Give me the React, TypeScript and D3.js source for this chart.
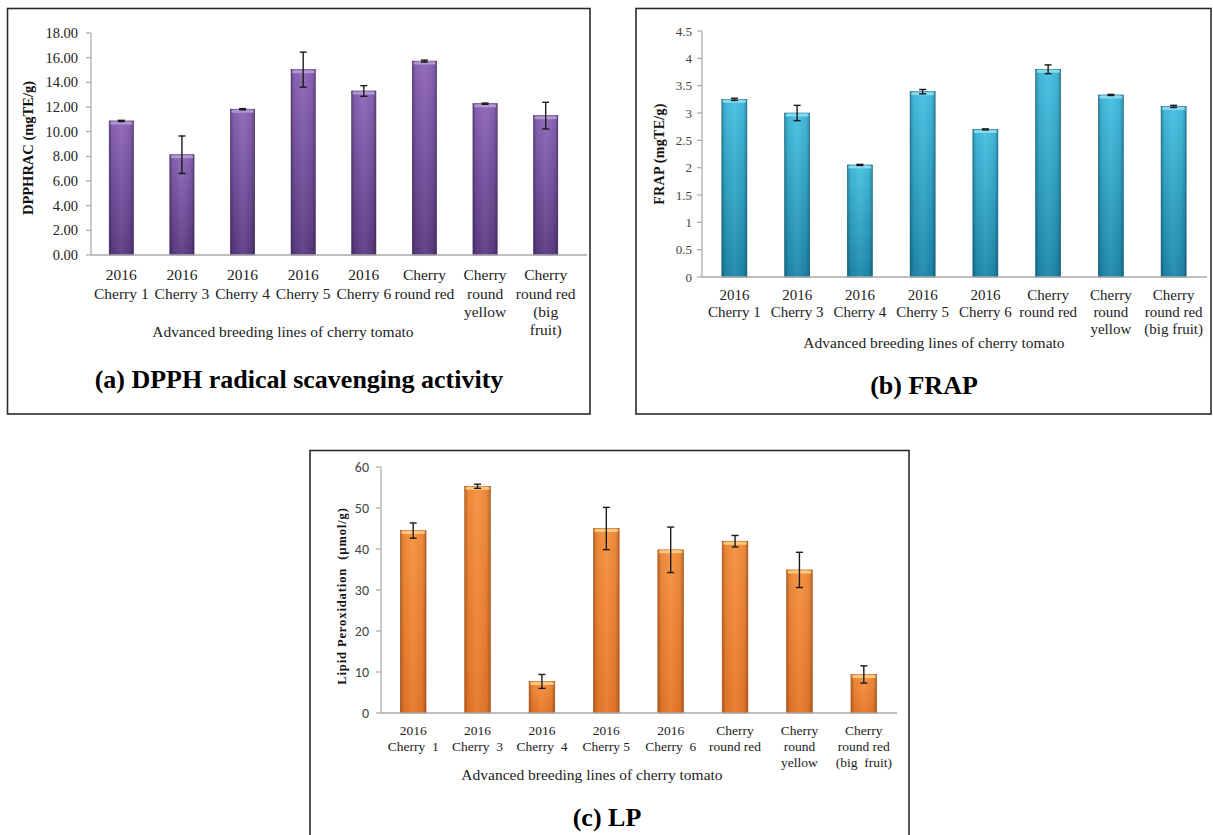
import React from "react";
import * as d3 from "d3";

const catsA: string[][] = [
  ["2016", "Cherry 1"], ["2016", "Cherry 3"], ["2016", "Cherry 4"], ["2016", "Cherry 5"],
  ["2016", "Cherry 6"], ["Cherry", "round red"], ["Cherry", "round", "yellow"], ["Cherry", "round red", "(big", "fruit)"],
];
const catsB: string[][] = [
  ["2016", "Cherry 1"], ["2016", "Cherry 3"], ["2016", "Cherry 4"], ["2016", "Cherry 5"],
  ["2016", "Cherry 6"], ["Cherry", "round red"], ["Cherry", "round", "yellow"], ["Cherry", "round red", "(big fruit)"],
];
const catsC: string[][] = [
  ["2016", "Cherry  1"], ["2016", "Cherry  3"], ["2016", "Cherry  4"], ["2016", "Cherry 5"],
  ["2016", "Cherry  6"], ["Cherry", "round red"], ["Cherry", "round", "yellow"], ["Cherry", "round red", "(big  fruit)"],
];

const dpphValues = [10.87, 8.13, 11.82, 15.03, 13.3, 15.72, 12.27, 11.3];
const dpphErrors = [0.05, 1.52, 0.05, 1.42, 0.43, 0.08, 0.05, 1.08];
const dpphTicks = [0, 2, 4, 6, 8, 10, 12, 14, 16, 18];

const frapValues = [3.25, 3.0, 2.05, 3.39, 2.7, 3.8, 3.33, 3.12];
const frapErrors = [0.02, 0.14, 0.01, 0.04, 0.01, 0.08, 0.01, 0.02];
const frapTicks = [0, 0.5, 1, 1.5, 2, 2.5, 3, 3.5, 4, 4.5];

const lpValues = [44.5, 55.3, 7.7, 45.0, 39.8, 41.9, 34.9, 9.4];
const lpErrors = [1.85, 0.5, 1.7, 5.15, 5.55, 1.4, 4.3, 2.1];
const lpTicks = [0, 10, 20, 30, 40, 50, 60];

const SERIF = "Liberation Serif";
const SANS = "Carlito";

type PanelProps = {
  id: string;
  cats: string[][];
  values: number[];
  errors: number[];
  ticks: number[];
  fmt: (v: number) => string;
  border: [number, number, number, number];
  xRange: [number, number];
  axisX: number;
  axisEnd: number;
  yRange: [number, number];
  tickFont: string;
  tickSize: number;
  tickColor: string;
  tickLabelX: number;
  yTitle: string;
  yTitlePos: [number, number];
  yTitleSize: number;
  yTitleSpacing: number;
  catY: number;
  catLH: number;
  catSize: number;
  xTitlePos: [number, number];
  xTitleSize: number;
  title: string;
  titlePos: [number, number];
  colors: { top: string; bottom: string; cap: string; stroke: string };
};

function Panel(p: PanelProps) {
  const x = d3.scaleBand<number>().domain(p.values.map((_, i) => i)).range(p.xRange).paddingInner(0).paddingOuter(0);
  const y = d3.scaleLinear().domain([p.ticks[0], p.ticks[p.ticks.length - 1]]).range(p.yRange);
  const bw = x.bandwidth() * 0.4;
  const [bx0, by0, bx1, by1] = p.border;
  return (
    <g>
      <defs>
        <linearGradient id={p.id + "v"} x1="0" y1="0" x2="0" y2="1">
          <stop offset="0%" stopColor={p.colors.top} />
          <stop offset="100%" stopColor={p.colors.bottom} />
        </linearGradient>
        <linearGradient id={p.id + "h"} x1="0" y1="0" x2="1" y2="0">
          <stop offset="0%" stopColor="#000" stopOpacity={0.28} />
          <stop offset="14%" stopColor="#000" stopOpacity={0.05} />
          <stop offset="50%" stopColor="#fff" stopOpacity={0.06} />
          <stop offset="86%" stopColor="#000" stopOpacity={0.05} />
          <stop offset="100%" stopColor="#000" stopOpacity={0.28} />
        </linearGradient>
      </defs>
      <rect x={bx0} y={by0} width={bx1 - bx0} height={by1 - by0} fill="#fff" stroke="#2b2b2b" strokeWidth={1.6} />
      <line x1={p.axisX} x2={p.axisX} y1={y(p.ticks[p.ticks.length - 1])} y2={y(0)} stroke="#a8a8a8" strokeWidth={1.2} />
      {p.ticks.map((t) => (
        <g key={t}>
          <line x1={p.axisX - 5} x2={p.axisX} y1={y(t)} y2={y(t)} stroke="#a8a8a8" strokeWidth={1.2} />
          <text x={p.tickLabelX} y={y(t)} dy="0.35em" textAnchor="end" fontFamily={p.tickFont} fontSize={p.tickSize} fill={p.tickColor}>
            {p.fmt(t)}
          </text>
        </g>
      ))}
      {p.values.map((v, i) => {
        const cx = (x(i) as number) + x.bandwidth() / 2;
        const top = y(v);
        const h = y(0) - top;
        return (
          <g key={i}>
            <rect x={cx - bw / 2} y={top} width={bw} height={h} fill={`url(#${p.id}v)`} stroke={p.colors.stroke} strokeWidth={0.6} />
            <rect x={cx - bw / 2} y={top} width={bw} height={h} fill={`url(#${p.id}h)`} />
            <rect x={cx - bw / 2 + 1} y={top + 0.5} width={bw - 2} height={3} rx={1.5} fill={p.colors.cap} opacity={0.85} />
          </g>
        );
      })}
      {p.values.map((v, i) => {
        const cx = (x(i) as number) + x.bandwidth() / 2;
        const hi = y(v + p.errors[i]);
        const lo = y(v - p.errors[i]);
        return (
          <g key={"e" + i} stroke="#1a1a1a" strokeWidth={1.4}>
            <line x1={cx} x2={cx} y1={hi} y2={lo} />
            <line x1={cx - 3.5} x2={cx + 3.5} y1={hi} y2={hi} />
            <line x1={cx - 3.5} x2={cx + 3.5} y1={lo} y2={lo} />
          </g>
        );
      })}
      <line x1={p.axisX} x2={p.axisEnd} y1={y(0)} y2={y(0)} stroke="#a8a8a8" strokeWidth={1.4} />
      {p.cats.map((lines, i) => {
        const cx = (x(i) as number) + x.bandwidth() / 2;
        return (
          <text key={"c" + i} textAnchor="middle" fontFamily={SERIF} fontSize={p.catSize} fill="#222" style={{ whiteSpace: "pre" }}>
            {lines.map((l, j) => (
              <tspan key={j} x={cx} y={p.catY + j * p.catLH} dy="0.35em">
                {l}
              </tspan>
            ))}
          </text>
        );
      })}
      <text x={p.xTitlePos[0]} y={p.xTitlePos[1]} dy="0.35em" textAnchor="middle" fontFamily={SERIF} fontSize={p.xTitleSize} fill="#222">
        Advanced breeding lines of cherry tomato
      </text>
      <text
        transform={`translate(${p.yTitlePos[0]},${p.yTitlePos[1]}) rotate(-90)`}
        dy="0.35em"
        textAnchor="middle"
        fontFamily={SERIF}
        fontWeight="bold"
        fontSize={p.yTitleSize}
        letterSpacing={p.yTitleSpacing}
        fill="#111"
        style={{ whiteSpace: "pre" }}
      >
        {p.yTitle}
      </text>
      <text x={p.titlePos[0]} y={p.titlePos[1]} dy="0.35em" textAnchor="middle" fontFamily={SERIF} fontWeight="bold" fontSize={26} fill="#000">
        {p.title}
      </text>
    </g>
  );
}

export default function App() {
  const f2 = d3.format(".2f");
  const fPlain = (v: number) => String(v);
  return (
    <svg width={1213} height={835} style={{ position: "absolute", left: 0, top: 0, background: "#fff" }}>
      <rect x={0} y={0} width={1213} height={835} fill="#fff" />
      <Panel
        id="pa"
        cats={catsA}
        values={dpphValues}
        errors={dpphErrors}
        ticks={dpphTicks}
        fmt={f2}
        border={[7.5, 8.5, 590, 414]}
        xRange={[91, 576]}
        axisX={91}
        axisEnd={587}
        yRange={[255, 33]}
        tickFont={SERIF}
        tickSize={14.5}
        tickColor="#222"
        tickLabelX={78}
        yTitle="DPPHRAC (mgTE/g)"
        yTitlePos={[28, 148]}
        yTitleSize={14.5}
        yTitleSpacing={0}
        catY={275}
        catLH={18.3}
        catSize={15.5}
        xTitlePos={[283, 332]}
        xTitleSize={15.5}
        title="(a) DPPH radical scavenging activity"
        titlePos={[299, 379]}
        colors={{ top: "#8d66b9", bottom: "#5c3b83", cap: "#b9a0d8", stroke: "#4a2d6c" }}
      />
      <Panel
        id="pb"
        cats={catsB}
        values={frapValues}
        errors={frapErrors}
        ticks={frapTicks}
        fmt={fPlain}
        border={[636, 8.5, 1211, 414]}
        xRange={[703, 1205]}
        axisX={702}
        axisEnd={1207}
        yRange={[277, 31]}
        tickFont={SERIF}
        tickSize={13}
        tickColor="#444"
        tickLabelX={692}
        yTitle="FRAP (mgTE/g)"
        yTitlePos={[659, 154]}
        yTitleSize={14}
        yTitleSpacing={0.3}
        catY={295}
        catLH={17}
        catSize={15}
        xTitlePos={[934, 343]}
        xTitleSize={15.5}
        title="(b) FRAP"
        titlePos={[924, 385]}
        colors={{ top: "#45c0e2", bottom: "#1d88ad", cap: "#95def2", stroke: "#1a7393" }}
      />
      <Panel
        id="pc"
        cats={catsC}
        values={lpValues}
        errors={lpErrors}
        ticks={lpTicks}
        fmt={fPlain}
        border={[310, 450.5, 909, 845]}
        xRange={[381, 896]}
        axisX={381}
        axisEnd={897}
        yRange={[713, 467]}
        tickFont={SANS}
        tickSize={14}
        tickColor="#444"
        tickLabelX={369}
        yTitle="Lipid Peroxidation  (µmol/g)"
        yTitlePos={[342, 596]}
        yTitleSize={12.5}
        yTitleSpacing={0.9}
        catY={730}
        catLH={16}
        catSize={13.5}
        xTitlePos={[592, 775]}
        xTitleSize={15.5}
        title="(c) LP"
        titlePos={[607, 817]}
        colors={{ top: "#f8903c", bottom: "#e8772a", cap: "#fcd48a", stroke: "#c9621d" }}
      />
    </svg>
  );
}
